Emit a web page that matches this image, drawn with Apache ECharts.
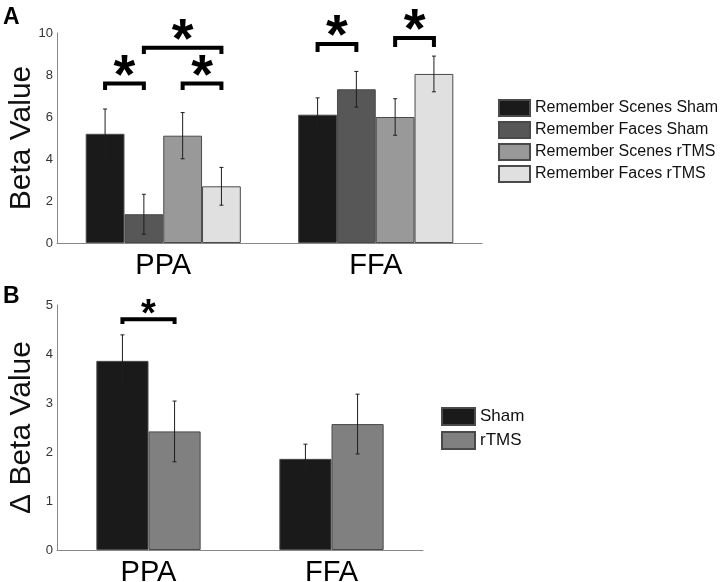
<!DOCTYPE html>
<html>
<head>
<meta charset="utf-8">
<script src="https://cdn.jsdelivr.net/npm/echarts@6/dist/echarts.min.js"></script>
<style>html,body{margin:0;padding:0;background:#fff}#c{width:720px;height:582px}</style>
</head>
<body>
<div id="c"></div>
<script>
// ---- data ----
var categories = ['PPA', 'FFA'];
var yTicksA = [0, 2, 4, 6, 8, 10];
var yTicksB = [0, 1, 2, 3, 4, 5];

var seriesNamesA = ['Remember Scenes Sham', 'Remember Faces Sham', 'Remember Scenes rTMS', 'Remember Faces rTMS'];
var scenesSham = [5.2, 6.11];
var scenesShamErr = [1.18, 0.8];
var facesSham = [1.37, 7.32];
var facesShamErr = [0.95, 0.85];
var scenesRtms = [5.11, 6.0];
var scenesRtmsErr = [1.1, 0.87];
var facesRtms = [2.7, 8.05];
var facesRtmsErr = [0.9, 0.85];

var seriesNamesB = ['Sham', 'rTMS'];
var deltaSham = [3.86, 1.86];
var deltaShamErr = [0.53, 0.3];
var deltaRtms = [2.42, 2.57];
var deltaRtmsErr = [0.62, 0.61];

// significance brackets: [category index, from bar, to bar, top value, leg end value, label]
var bracketsA = [
  [0, 0, 1, 7.59, 7.29, '*'],
  [0, 1, 3, 9.3, 9.0, '*'],
  [0, 2, 3, 7.59, 7.29, '*'],
  [1, 0, 1, 9.48, 9.1, '*'],
  [1, 2, 3, 9.76, 9.33, '*']
];
var bracketsB = [
  [0, 0, 1, 4.71, 4.61, '*']
];

// ---- styles ----
var FONT = "'Liberation Sans', Arial, Helvetica, sans-serif";
var colorsA = ['#1a1a1a', '#575757', '#999999', '#e0e0e0'];
var colorsB = ['#1a1a1a', '#808080'];
var GAP_A = 0.27, GAP_B = 0.43;

function barCenter(api, cat, idx, n, gap) {
  var c = api.coord([cat, 0])[0];
  var band = api.size([1, 0])[0];
  var gw = band * (1 - gap);
  return c - gw / 2 + (idx + 0.5) * gw / n;
}

function makeBar(name, vals, color, axisIdx, gap) {
  return {
    type: 'bar', name: name, xAxisIndex: axisIdx, yAxisIndex: axisIdx,
    data: vals, barGap: '0%', barCategoryGap: (gap * 100) + '%',
    itemStyle: { color: color, borderColor: '#4a4a4a', borderWidth: 1 },
    emphasis: { disabled: true }, z: 2
  };
}

function makeErr(vals, errs, idx, n, axisIdx, gap) {
  var d = vals.map(function (v, i) { return [i, v, errs[i]]; });
  return {
    type: 'custom', xAxisIndex: axisIdx, yAxisIndex: axisIdx, data: d, z: 5, silent: true,
    renderItem: function (params, api) {
      var cat = api.value(0), v = api.value(1), e = api.value(2);
      var x = barCenter(api, cat, idx, n, gap);
      var yt = api.coord([cat, v + e])[1];
      var yb = api.coord([cat, v - e])[1];
      var st = { stroke: '#1e1e1e', lineWidth: 1 };
      return { type: 'group', children: [
        { type: 'line', shape: { x1: x, y1: yt, x2: x, y2: yb }, style: st },
        { type: 'line', shape: { x1: x - 2, y1: yt, x2: x + 2, y2: yt }, style: st },
        { type: 'line', shape: { x1: x - 2, y1: yb, x2: x + 2, y2: yb }, style: st }
      ] };
    }
  };
}

function makeBrackets(br, n, axisIdx, gap, fs, lw, dy) {
  return {
    type: 'custom', xAxisIndex: axisIdx, yAxisIndex: axisIdx, data: br, z: 6, silent: true,
    renderItem: function (params, api) {
      var b = br[params.dataIndex];
      var x1 = barCenter(api, b[0], b[1], n, gap);
      var x2 = barCenter(api, b[0], b[2], n, gap);
      var yt = api.coord([b[0], b[3]])[1];
      var yl = api.coord([b[0], b[4]])[1];
      var st = { stroke: '#000', lineWidth: lw, fill: null, lineJoin: 'miter', lineCap: 'butt' };
      return { type: 'group', children: [
        { type: 'polyline', shape: { points: [[x1, yl], [x1, yt], [x2, yt], [x2, yl]] }, style: st },
        { type: 'text', style: { text: b[5], x: (x1 + x2) / 2, y: yt + dy, textAlign: 'center', textVerticalAlign: 'bottom',
          font: 'bold ' + fs + 'px ' + FONT, fill: '#000' } }
      ] };
    }
  };
}

var chart = echarts.init(document.getElementById('c'), null, { renderer: 'canvas' });

var axisLabelStyle = { color: '#333', fontSize: 13, fontFamily: FONT, margin: 4 };
var catLabelStyle = { color: '#000', fontSize: 29, fontFamily: FONT, margin: 8 };

var option = {
  animation: false,
  backgroundColor: '#fff',
  grid: [
    { left: 57, right: 238, top: 33, bottom: 339, containLabel: false, outerBoundsMode: 'none' },
    { left: 57, right: 297, top: 305, bottom: 32, containLabel: false, outerBoundsMode: 'none' }
  ],
  title: [
    { text: 'A', left: 3, top: 6, padding: 0, textStyle: { fontFamily: FONT, fontWeight: 'bold', fontSize: 23, color: '#000' } },
    { text: 'B', left: 3, top: 285, padding: 0, textStyle: { fontFamily: FONT, fontWeight: 'bold', fontSize: 23, color: '#000' } }
  ],
  legend: [
    { data: seriesNamesA, orient: 'vertical', left: 498, top: 99, padding: 0, itemWidth: 31, itemHeight: 16, itemGap: 4,
      icon: 'rect', selectedMode: false, textStyle: { fontFamily: FONT, fontSize: 16, color: '#111' } },
    { data: seriesNamesB, orient: 'vertical', left: 441, top: 407, padding: 0, itemWidth: 33, itemHeight: 17, itemGap: 5,
      icon: 'rect', selectedMode: false, textStyle: { fontFamily: FONT, fontSize: 17, color: '#111' } }
  ],
  xAxis: [
    { type: 'category', gridIndex: 0, data: categories, axisTick: { show: false },
      axisLine: { lineStyle: { color: '#888', width: 1 } }, axisLabel: catLabelStyle },
    { type: 'category', gridIndex: 1, data: categories, axisTick: { show: false },
      axisLine: { lineStyle: { color: '#888', width: 1 } }, axisLabel: catLabelStyle }
  ],
  yAxis: [
    { type: 'value', gridIndex: 0, min: yTicksA[0], max: yTicksA[yTicksA.length - 1], interval: yTicksA[1] - yTicksA[0],
      name: 'Beta Value', nameLocation: 'middle', nameGap: 20, nameMoveOverlap: false,
      nameTextStyle: { fontFamily: FONT, fontSize: 30, color: '#111' },
      axisLine: { show: true, lineStyle: { color: '#888', width: 1 } }, axisTick: { show: false },
      splitLine: { show: false }, axisLabel: axisLabelStyle },
    { type: 'value', gridIndex: 1, min: yTicksB[0], max: yTicksB[yTicksB.length - 1], interval: yTicksB[1] - yTicksB[0],
      name: 'Δ Beta Value', nameLocation: 'middle', nameGap: 20, nameMoveOverlap: false,
      nameTextStyle: { fontFamily: FONT, fontSize: 30, color: '#111' },
      axisLine: { show: true, lineStyle: { color: '#888', width: 1 } }, axisTick: { show: false },
      splitLine: { show: false }, axisLabel: axisLabelStyle }
  ],
  series: [
    makeBar(seriesNamesA[0], scenesSham, colorsA[0], 0, GAP_A),
    makeBar(seriesNamesA[1], facesSham, colorsA[1], 0, GAP_A),
    makeBar(seriesNamesA[2], scenesRtms, colorsA[2], 0, GAP_A),
    makeBar(seriesNamesA[3], facesRtms, colorsA[3], 0, GAP_A),
    makeErr(scenesSham, scenesShamErr, 0, 4, 0, GAP_A),
    makeErr(facesSham, facesShamErr, 1, 4, 0, GAP_A),
    makeErr(scenesRtms, scenesRtmsErr, 2, 4, 0, GAP_A),
    makeErr(facesRtms, facesRtmsErr, 3, 4, 0, GAP_A),
    makeBrackets(bracketsA, 4, 0, GAP_A, 56, 4, 22),
    makeBar(seriesNamesB[0], deltaSham, colorsB[0], 1, GAP_B),
    makeBar(seriesNamesB[1], deltaRtms, colorsB[1], 1, GAP_B),
    makeErr(deltaSham, deltaShamErr, 0, 2, 1, GAP_B),
    makeErr(deltaRtms, deltaRtmsErr, 1, 2, 1, GAP_B),
    makeBrackets(bracketsB, 2, 1, GAP_B, 38, 4, 15)
  ]
};
chart.setOption(option);
</script>
</body>
</html>
